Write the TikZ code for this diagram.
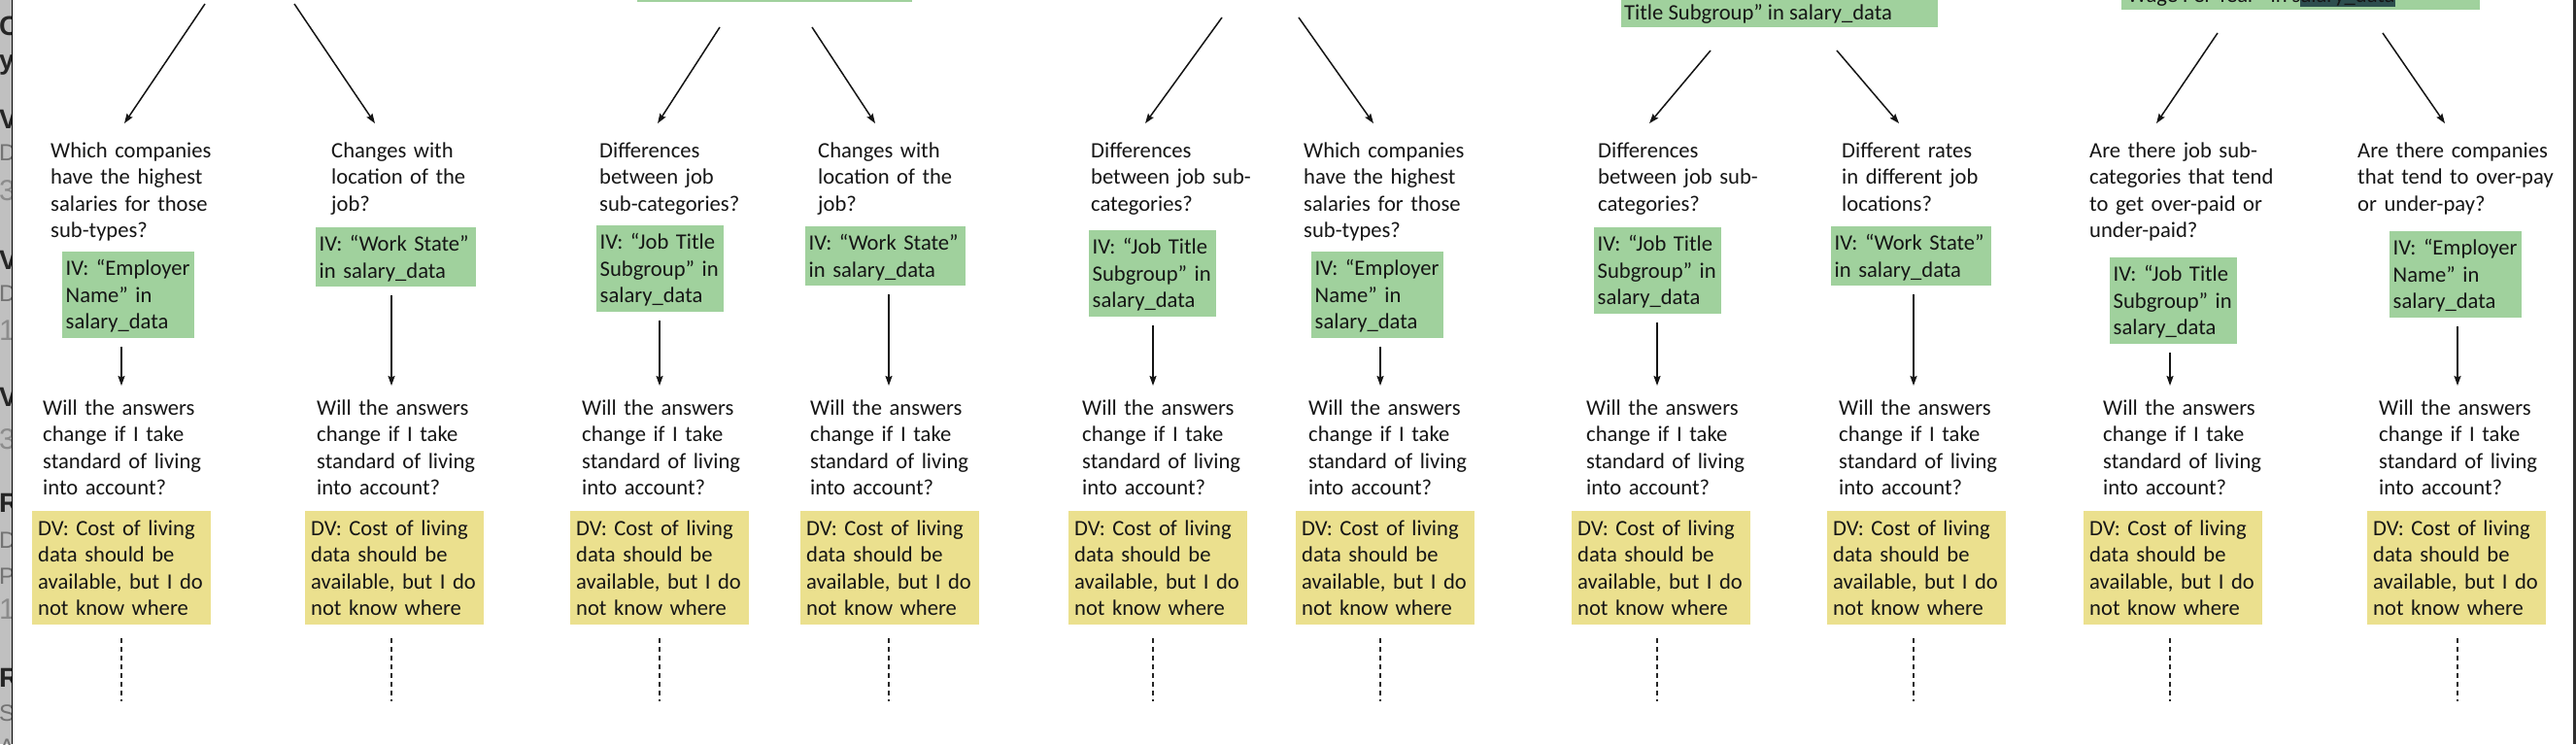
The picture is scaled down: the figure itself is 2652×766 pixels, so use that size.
\documentclass[tikz,border=0pt]{standalone}
\usepackage{fontspec}
\setmainfont{Carlito}
\newfontfamily\stripfont{Liberation Sans}
\usetikzlibrary{arrows.meta,calc}
\definecolor{ivgreen}{RGB}{160,209,157}
\definecolor{dvyellow}{RGB}{235,224,142}
\definecolor{txt}{RGB}{22,22,22}
\definecolor{hilite}{RGB}{45,78,78}
\definecolor{stripgray}{RGB}{192,192,192}
\newcommand\mystrut{\rule[-6pt]{0pt}{27.5pt}}
\begin{document}
\begin{tikzpicture}[x=1pt,y=-1pt,
  every node/.style={font=\fontsize{22.6}{27.5}\selectfont, text=txt},
  qtext/.style={anchor=north west, inner sep=0pt, align=left, text width=205pt,
    execute at begin node=\mystrut, execute at end node=\mystrut},
  ivbox/.style={anchor=north west, fill=ivgreen, inner xsep=3.5pt, inner ysep=3pt,
    align=left, text width=#1,
    execute at begin node=\mystrut, execute at end node=\mystrut},
  dvbox/.style={anchor=north west, fill=dvyellow, inner xsep=6pt, inner ysep=3.5pt,
    align=left, text width=172pt,
    execute at begin node=\mystrut, execute at end node=\mystrut},
  topbox/.style={anchor=south west, fill=ivgreen, inner sep=0pt, minimum height=60pt},
  arr/.style={-{Stealth[length=10pt,width=7pt,inset=1.5pt]}, line width=1.5pt, draw=black!92},
  varr/.style={arr, shorten >=8.5pt},
  dashline/.style={draw=black!85, line width=1.5pt, dash pattern=on 5pt off 4pt},
  stripbold/.style={anchor=base west, inner sep=0pt, text=black!85,
    font=\stripfont\bfseries\fontsize{28}{30}\selectfont},
  stripreg/.style={anchor=base west, inner sep=0pt, text=black!55,
    font=\stripfont\fontsize{24}{26}\selectfont},
  stripnum/.style={anchor=base west, inner sep=0pt, text=black!45,
    font=\stripfont\fontsize{30}{32}\selectfont}]
\useasboundingbox (0,0) rectangle (2652,766);
\clip (0,0) rectangle (2652,766);
\fill[white] (0,0) rectangle (2652,766);

% ---- left strip of the neighbouring page ----
\fill[stripgray] (0,0) rectangle (12,766);
\begin{scope}
\clip (0,0) rectangle (11.7,766);
\node[stripbold] (l1) at (-1,36) {C};
\node[stripbold] (l2) at (-1,71) {y};
\node[stripbold] (l3) at (-1,132) {V};
\node[stripreg] (l4) at (-1,165) {D};
\node[stripnum] (l5) at (-1,206) {3};
\node[stripbold] (l6) at (-1,277) {V};
\node[stripreg] (l7) at (-1,310) {D};
\node[stripnum] (l8) at (-1,350) {1};
\node[stripbold] (l9) at (-1,418) {V};
\node[stripnum] (l10) at (-1,462) {3};
\node[stripbold] (l11) at (-1,527) {R};
\node[stripreg] (l12) at (-1,564) {D};
\node[stripreg] (l13) at (-1,601) {P};
\node[stripnum] (l14) at (-1,637) {1};
\node[stripbold] (l15) at (-1,707) {R};
\node[stripreg] (l16) at (-1,742) {S};
\node[stripreg] (l17) at (-1,777) {A};
\end{scope}
\draw[line width=1.6pt, black] (12.5,0) -- (12.5,766);
\fill[black!82] (2649,0) rectangle (2652,766);

% ---- parent boxes cut off at the top ----
\node[topbox, minimum width=283pt] (pA) at (656,2) {};
\node[topbox, minimum width=326pt] (pB) at (1669,28) {};
\node[anchor=base west, inner sep=0pt] (pBt) at (1672,20) {Title Subgroup” in salary\_data};
\node[topbox, minimum width=369pt] (pC) at (2184,10) {};
\fill[hilite] (2368,-10) rectangle (2466,7);
\node[anchor=base west, inner sep=0pt] (pCt) at (2190,2) {Wage Per Year” in salary\_data};

% ---- column axes ----
\coordinate (ax1) at (125,0);
\coordinate (ax2) at (403,0);
\coordinate (ax3) at (679,0);
\coordinate (ax4) at (915,0);
\coordinate (ax5) at (1187,0);
\coordinate (ax6) at (1421,0);
\coordinate (ax7) at (1706,0);
\coordinate (ax8) at (1970,0);
\coordinate (ax9) at (2234,0);
\coordinate (ax10) at (2530,0);

% ---- questions ----
\node[qtext] (q1) at (52,140.5) {Which companies\\have the highest\\salaries for those\\sub-types?};
\node[qtext] (q2) at (341,140.5) {Changes with\\location of the\\job?};
\node[qtext] (q3) at (617,140.5) {Differences\\between job\\sub-categories?};
\node[qtext] (q4) at (842,140.5) {Changes with\\location of the\\job?};
\node[qtext] (q5) at (1123,140.5) {Differences\\between job sub-\\categories?};
\node[qtext] (q6) at (1342,140.5) {Which companies\\have the highest\\salaries for those\\sub-types?};
\node[qtext] (q7) at (1645,140.5) {Differences\\between job sub-\\categories?};
\node[qtext] (q8) at (1896,140.5) {Different rates\\in different job\\locations?};
\node[qtext] (q9) at (2151,140.5) {Are there job sub-\\categories that tend\\to get over-paid or\\under-paid?};
\node[qtext] (q10) at (2427,140.5) {Are there companies\\that tend to over-pay\\or under-pay?};

% ---- independent variables ----
\node[ivbox=129pt] (iv1) at (64,259) {IV: “Employer\\Name” in\\salary\_data};
\node[ivbox=158pt] (iv2) at (325,234) {IV: “Work State”\\in salary\_data};
\node[ivbox=124pt] (iv3) at (614,232) {IV: “Job Title\\Subgroup” in\\salary\_data};
\node[ivbox=158pt] (iv4) at (829,233) {IV: “Work State”\\in salary\_data};
\node[ivbox=124pt] (iv5) at (1121,237) {IV: “Job Title\\Subgroup” in\\salary\_data};
\node[ivbox=129pt] (iv6) at (1350,259) {IV: “Employer\\Name” in\\salary\_data};
\node[ivbox=124pt] (iv7) at (1641,234) {IV: “Job Title\\Subgroup” in\\salary\_data};
\node[ivbox=158pt] (iv8) at (1885,233) {IV: “Work State”\\in salary\_data};
\node[ivbox=124pt] (iv9) at (2172,265) {IV: “Job Title\\Subgroup” in\\salary\_data};
\node[ivbox=129pt] (iv10) at (2460,238) {IV: “Employer\\Name” in\\salary\_data};

% ---- follow-up questions ----
\foreach \i/\x in {1/44,2/326,3/599,4/834,5/1114,6/1347,7/1633,8/1893,9/2165,10/2449}{
  \node[qtext] (w\i) at (\x,405.5) {Will the answers\\change if I take\\standard of living\\into account?};
}

% ---- dependent variables ----
\foreach \i/\x in {1/33,2/314,3/587,4/824,5/1100,6/1334,7/1618,8/1881,9/2145,10/2437}{
  \node[dvbox] (dv\i) at (\x,526) {DV: Cost of living\\data should be\\available, but I do\\not know where};
}

% ---- top arrows ----
\coordinate (s1) at (211,4);   \coordinate (e1) at (128,127);
\coordinate (s2) at (303,4);   \coordinate (e2) at (386,127);
\coordinate (s3) at (741,28);  \coordinate (e3) at (677,127);
\coordinate (s4) at (836,28);  \coordinate (e4) at (901,127);
\coordinate (s5) at (1258,18); \coordinate (e5) at (1179,127);
\coordinate (s6) at (1337,18); \coordinate (e6) at (1414,127);
\coordinate (s7) at (1761,52); \coordinate (e7) at (1698,127);
\coordinate (s8) at (1891,52); \coordinate (e8) at (1955,127);
\coordinate (s9) at (2283,34); \coordinate (e9) at (2220,127);
\coordinate (s10) at (2453,34); \coordinate (e10) at (2517,127);
\foreach \i in {1,...,10}{
  \draw[arr] (s\i) -- (e\i);
}

% ---- IV -> follow-up arrows and dashed continuations ----
\foreach \i in {1,...,10}{
  \draw[varr] ($(iv\i.south -| ax\i)+(0,9)$) -- (w\i.north -| ax\i);
  \draw[dashline] ($(dv\i.south -| ax\i)+(0,14)$) -- ++(0,65);
}
\end{tikzpicture}
\end{document}
